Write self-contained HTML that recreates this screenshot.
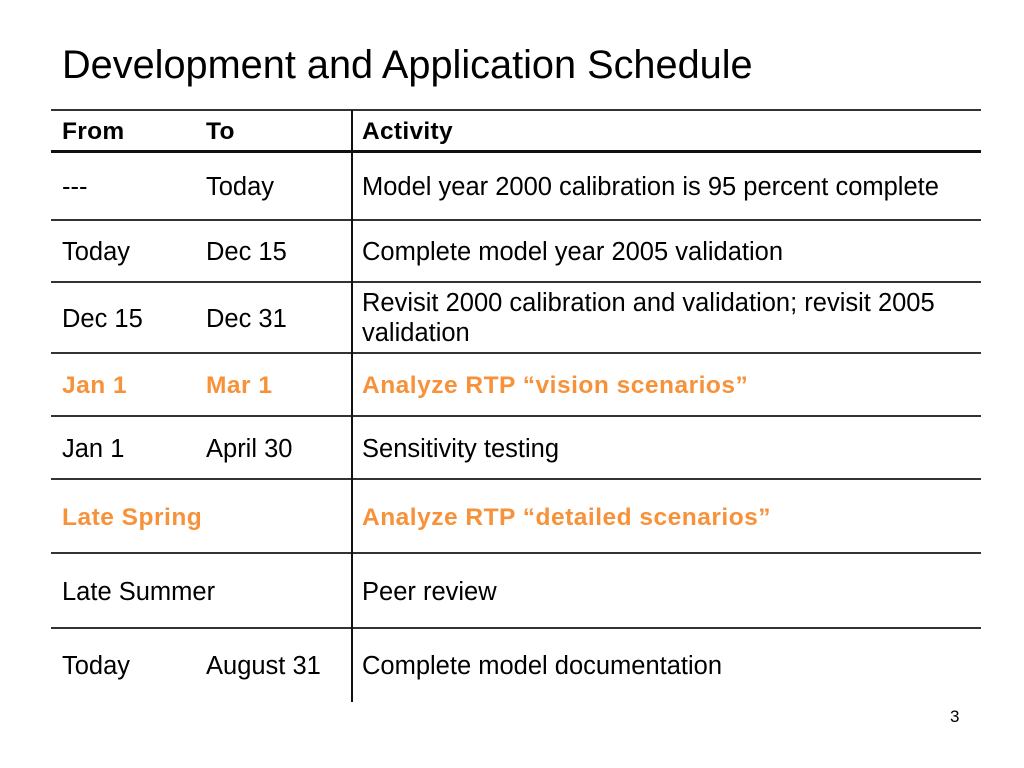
<!DOCTYPE html>
<html><head><meta charset="utf-8"><style>
body{margin:0;width:1024px;height:768px;background:#fff;position:relative;overflow:hidden;font-family:"Liberation Sans",sans-serif;color:#000}
.t{position:absolute;font-size:25.5px;line-height:30px;white-space:nowrap}
.h{font-weight:bold;font-size:24.5px;letter-spacing:0.3px}
.o{color:#F7923A;font-weight:bold;font-size:24.5px;letter-spacing:0.5px}
.l{position:absolute;left:51px;width:930px;height:2px;background:#333}
</style></head><body>
<div style="position:absolute;left:62px;top:42px;font-size:39.7px;line-height:46px">Development and Application Schedule</div>
<div>
<div class="l" style="top:109px"></div>
<div class="l" style="top:150px;height:3px;background:#111"></div>
<div class="l" style="top:219px"></div>
<div class="l" style="top:281px"></div>
<div class="l" style="top:352px"></div>
<div class="l" style="top:415px"></div>
<div class="l" style="top:478px"></div>
<div class="l" style="top:552px"></div>
<div class="l" style="top:627px"></div>
<div style="position:absolute;left:351px;top:110px;width:2px;height:592px;background:#111"></div>

<div class="t h" style="left:62px;top:117px">From</div>
<div class="t h" style="left:206px;top:117px">To</div>
<div class="t h" style="left:362px;top:117px">Activity</div>

<div class="t" style="left:62px;top:172px">---</div>
<div class="t" style="left:206px;top:172px">Today</div>
<div class="t" style="left:362px;top:172px">Model year 2000 calibration is 95 percent complete</div>

<div class="t" style="left:62px;top:237px">Today</div>
<div class="t" style="left:206px;top:237px">Dec 15</div>
<div class="t" style="left:362px;top:237px">Complete model year 2005 validation</div>

<div class="t" style="left:62px;top:304px">Dec 15</div>
<div class="t" style="left:206px;top:304px">Dec 31</div>
<div class="t" style="left:362px;top:288px">Revisit 2000 calibration and validation; revisit 2005<br>validation</div>

<div class="t o" style="left:62px;top:371px">Jan 1</div>
<div class="t o" style="left:206px;top:371px">Mar 1</div>
<div class="t o" style="left:362px;top:371px">Analyze RTP “vision scenarios”</div>

<div class="t" style="left:62px;top:434px">Jan 1</div>
<div class="t" style="left:206px;top:434px">April 30</div>
<div class="t" style="left:362px;top:434px">Sensitivity testing</div>

<div class="t o" style="left:62px;top:503px">Late Spring</div>
<div class="t o" style="left:362px;top:503px">Analyze RTP “detailed scenarios”</div>

<div class="t" style="left:62px;top:577px">Late Summer</div>
<div class="t" style="left:362px;top:577px">Peer review</div>

<div class="t" style="left:62px;top:651px">Today</div>
<div class="t" style="left:206px;top:651px">August 31</div>
<div class="t" style="left:362px;top:651px">Complete model documentation</div>
</div>
<div style="position:absolute;left:950px;top:707px;font-size:17px">3</div>
</body></html>
